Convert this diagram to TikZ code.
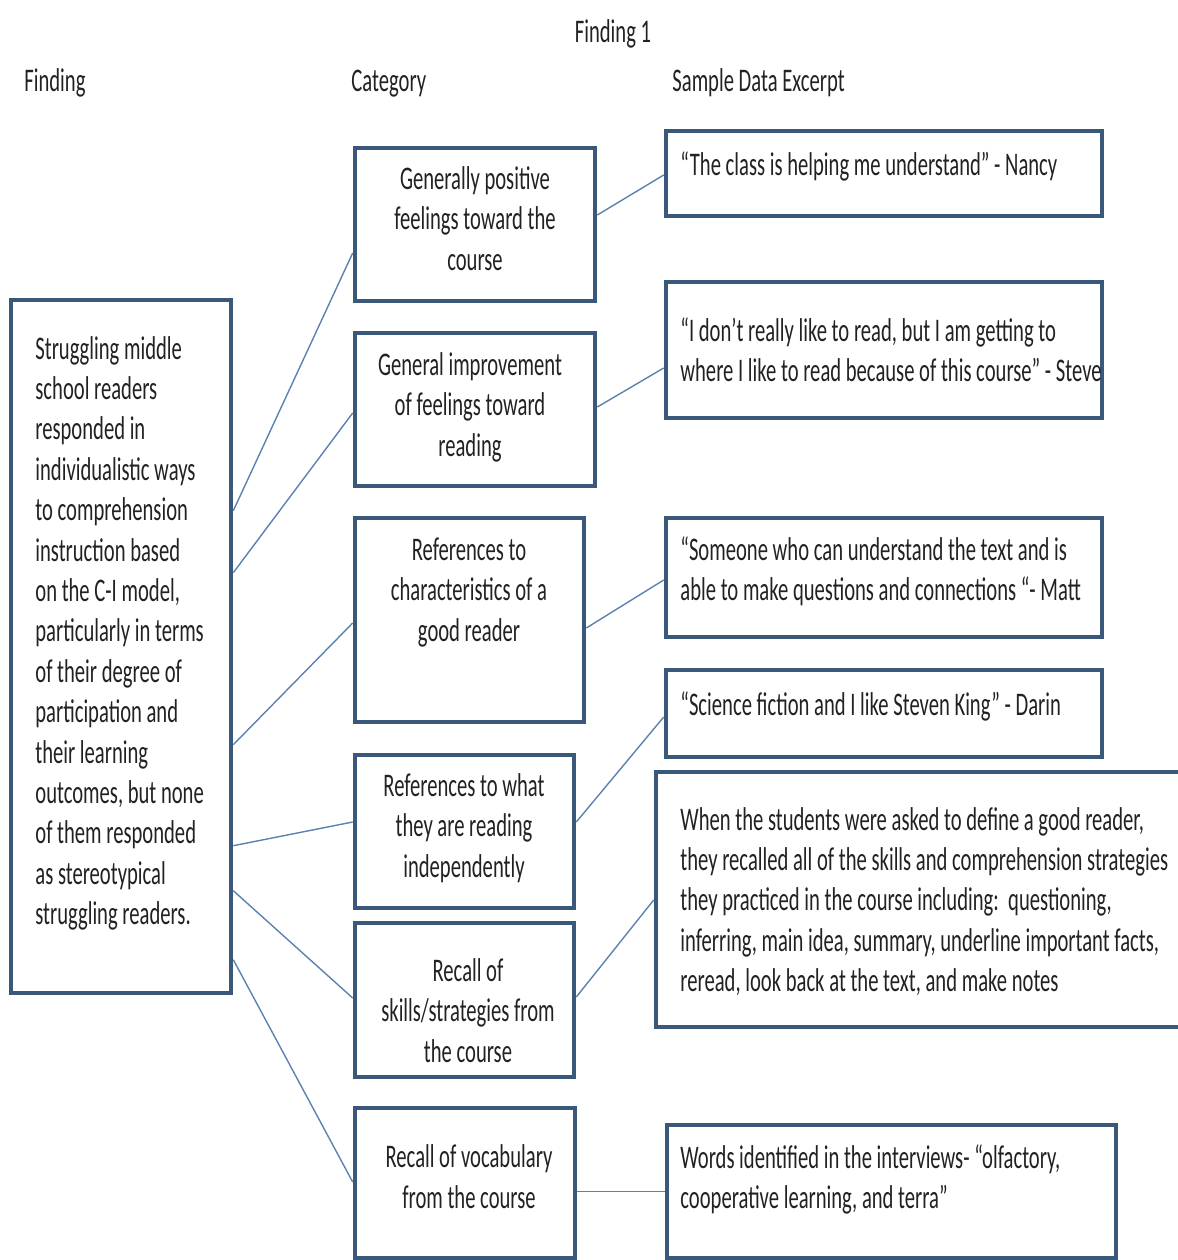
\documentclass[tikz,border=0pt]{standalone}
\usepackage{fontspec}
\setmainfont{Carlito}[FakeStretch=0.625]
\usetikzlibrary{calc}
\definecolor{boxblue}{HTML}{3A5879}
\definecolor{linkblue}{HTML}{5A82B0}
\definecolor{inkgray}{HTML}{222222}

\begin{document}
\begin{tikzpicture}[x=0.5pt,y=-0.5pt,
    frame/.style={draw=boxblue, line width=2.3pt, fill=white, inner sep=0pt},
    link/.style={draw=linkblue, line width=0.7pt},
    txt/.style={inner sep=0pt, yshift=-2.2pt, text=inkgray, font=\fontsize{16.5}{20.2}\selectfont,
        execute at begin node=\strut, execute at end node=\strut}]
    \useasboundingbox (0,0) rectangle (1178,1260);
    \clip (0,0) rectangle (1178,1260);

    % headings
    \node[txt] (title) at (613,30) {Finding 1};
    \node[txt, anchor=west] (hfinding) at (24,79) {Finding};
    \node[txt, anchor=west] (hcategory) at (351,79) {Category};
    \node[txt, anchor=west] (hsample) at (672,79) {Sample Data Excerpt};

    % boxes
    \node[frame, minimum width=110pt, minimum height=346.5pt] (fnd) at (121,646.5) {};
    \node[frame, minimum width=120pt, minimum height=76.5pt] (cat1) at (475,224.5) {};
    \node[frame, minimum width=120pt, minimum height=76.5pt] (cat2) at (475,409.5) {};
    \node[frame, minimum width=114.5pt, minimum height=102pt] (cat3) at (469.5,620) {};
    \node[frame, minimum width=109.5pt, minimum height=76.5pt] (cat4) at (464.5,831.5) {};
    \node[frame, minimum width=109.5pt, minimum height=77pt] (cat5) at (464.5,1000) {};
    \node[frame, minimum width=110pt, minimum height=75pt] (cat6) at (465,1183) {};
    \node[frame, minimum width=218pt, minimum height=42.5pt] (smp1) at (884,173.5) {};
    \node[frame, minimum width=218pt, minimum height=68pt] (smp2) at (884,350) {};
    \node[frame, minimum width=218pt, minimum height=59.5pt] (smp3) at (884,577.5) {};
    \node[frame, minimum width=218pt, minimum height=43.5pt] (smp4) at (884,713.5) {};
    \node[frame, minimum width=272pt, minimum height=127.5pt] (smp5) at (928,899.5) {};
    \node[frame, minimum width=224.5pt, minimum height=66.5pt] (smp6) at (891.5,1191.5) {};

    % texts
    \node[txt, anchor=west, align=left] (fndtext) at (35,632) {Struggling middle\\school readers\\responded in\\individualistic ways\\to comprehension\\instruction based\\on the C-I model,\\particularly in terms\\of their degree of\\participation and\\their learning\\outcomes, but none\\of them responded\\as stereotypical\\struggling readers.};
    \node[txt, align=center] (cat1text) at (475,220) {Generally positive\\feelings toward the\\course};
    \node[txt, align=center] (cat2text) at (470,406) {General improvement\\of feelings toward\\reading};
    \node[txt, align=center] (cat3text) at (469,591) {References to\\characteristics of a\\good reader};
    \node[txt, align=center] (cat4text) at (464,827) {References to what\\they are reading\\independently};
    \node[txt, align=center] (cat5text) at (468,1012) {Recall of\\skills/strategies from\\the course};
    \node[txt, align=center] (cat6text) at (469,1178) {Recall of vocabulary\\from the course};
    \node[txt, anchor=west] (smp1text) at (680,163) {“The class is helping me understand” - Nancy};
    \node[txt, anchor=west, align=left] (smp2text) at (680,351) {“I don’t really like to read, but I am getting to\\where I like to read because of this course” - Steve};
    \node[txt, anchor=west, align=left] (smp3text) at (680,570) {“Someone who can understand the text and is\\able to make questions and connections “- Matt};
    \node[txt, anchor=west] (smp4text) at (680,703) {“Science fiction and I like Steven King” - Darin};
    \node[txt, anchor=west, align=left] (smp5text) at (680,901) {When the students were asked to define a good reader,\\they recalled all of the skills and comprehension strategies\\they practiced in the course including:\ \ questioning,\\inferring, main idea, summary, underline important facts,\\reread, look back at the text, and make notes};
    \node[txt, anchor=west, align=left] (smp6text) at (680,1178) {Words identified in the interviews- “olfactory,\\cooperative learning, and terra”};

    % connectors
    \foreach \c/\a/\b in {cat1/213/28.5, cat2/275/3.5, cat3/447/3, cat4/548/-9.5, cat5/593/-2, cat6/662/-1}
    \draw[link] ($(fnd.north east)+(0,\a)$) -- ($(\c.west)+(0,\b)$);
    \foreach \c/\s/\a/\b in {cat1/smp1/-9.5/1.5, cat2/smp2/-2.5/18, cat3/smp3/8/2.5, cat4/smp4/-9.5/3.5, cat5/smp5/-3/0.5}
    \draw[link] ($(\c.east)+(0,\a)$) -- ($(\s.west)+(0,\b)$);
    \draw[link] (cat6.east |- smp6.west) -- (smp6.west);
\end{tikzpicture}
\end{document}
